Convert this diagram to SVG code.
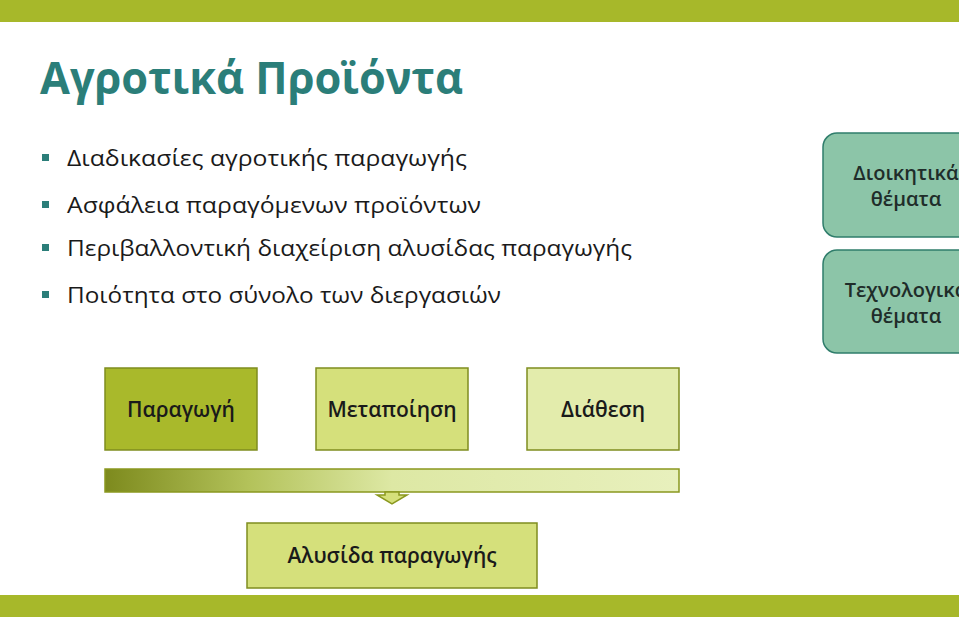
<svg xmlns="http://www.w3.org/2000/svg" width="959" height="617" viewBox="0 0 959 617">
<style>
.band{fill:#a7b82a}
.title{font-family:"Open Sans","Noto Sans",sans-serif;font-weight:700;font-size:44px;fill:#2b7e79}
.bul{font-family:"Open Sans","Noto Sans",sans-serif;font-size:22px;fill:#1a1a1a}
.sq{fill:#2b7e79}
.lbl{font-family:"Open Sans","Noto Sans",sans-serif;font-weight:600;font-size:21px;fill:#1a1a1a;text-anchor:middle}
.rlbl{font-family:"Open Sans","Noto Sans",sans-serif;font-weight:600;font-size:20px;fill:#1f2d2a;text-anchor:middle}
.sbox{stroke:#7f8d1f;stroke-width:1.5}
.rbox{fill:#8cc5a8;stroke:#2f7d6b;stroke-width:1.5}
</style>
<defs>
<linearGradient id="g" x1="0" y1="0" x2="1" y2="0">
<stop offset="0" stop-color="#7d8a1d"/>
<stop offset="0.25" stop-color="#b3c25a"/>
<stop offset="0.5" stop-color="#dde8a4"/>
<stop offset="1" stop-color="#e8f0bd"/>
</linearGradient>
</defs>
<rect width="959" height="617" fill="#ffffff"/>
<rect class="band" x="0" y="0" width="959" height="22"/>
<rect class="band" x="0" y="595" width="959" height="22"/>
<text class="title" x="40" y="94" textLength="423" lengthAdjust="spacingAndGlyphs">Αγροτικά Προϊόντα</text>
<g id="bullets">
<rect class="sq" x="42" y="154" width="7" height="7"/>
<text class="bul" x="67" y="166" textLength="400" lengthAdjust="spacingAndGlyphs">Διαδικασίες αγροτικής παραγωγής</text>
<rect class="sq" x="42" y="201" width="7" height="7"/>
<text class="bul" x="67" y="213" textLength="414" lengthAdjust="spacingAndGlyphs">Ασφάλεια παραγόμενων προϊόντων</text>
<rect class="sq" x="42" y="244" width="7" height="7"/>
<text class="bul" x="67" y="256" textLength="565" lengthAdjust="spacingAndGlyphs">Περιβαλλοντική διαχείριση αλυσίδας παραγωγής</text>
<rect class="sq" x="42" y="291" width="7" height="7"/>
<text class="bul" x="67" y="303" textLength="434" lengthAdjust="spacingAndGlyphs">Ποιότητα στο σύνολο των διεργασιών</text>
</g>
<g id="node-dioikitika">
<rect class="rbox" x="823" y="133" width="166" height="104" rx="14"/>
<text class="rlbl" x="906" y="180">Διοικητικά</text>
<text class="rlbl" x="906" y="206">θέματα</text>
</g>
<g id="node-texnologika">
<rect class="rbox" x="823" y="250" width="166" height="103" rx="14"/>
<text class="rlbl" x="906" y="297">Τεχνολογικά</text>
<text class="rlbl" x="906" y="323">θέματα</text>
</g>
<g id="node-paragogi">
<rect class="sbox" x="105" y="368" width="152" height="82" fill="#a9b92b"/>
<text class="lbl" x="181" y="417">Παραγωγή</text>
</g>
<g id="node-metapoiisi">
<rect class="sbox" x="316" y="368" width="152" height="82" fill="#d5e07b"/>
<text class="lbl" x="392" y="417">Μεταποίηση</text>
</g>
<g id="node-diathesi">
<rect class="sbox" x="527" y="368" width="152" height="82" fill="#e3ecac"/>
<text class="lbl" x="603" y="417">Διάθεση</text>
</g>
<g id="connectors">
<rect x="105" y="469" width="574" height="23" fill="url(#g)" stroke="#8a981f" stroke-width="1.5"/>
<polygon points="385,492 399,492 399,495 407,495 392,504 377,495 385,495" fill="#d5e07b" stroke="#8a981f" stroke-width="1.5"/>
</g>
<g id="node-alysida">
<rect class="sbox" x="247" y="523" width="290" height="65" fill="#d5e07b"/>
<text class="lbl" x="392" y="563">Αλυσίδα παραγωγής</text>
</g>
</svg>
